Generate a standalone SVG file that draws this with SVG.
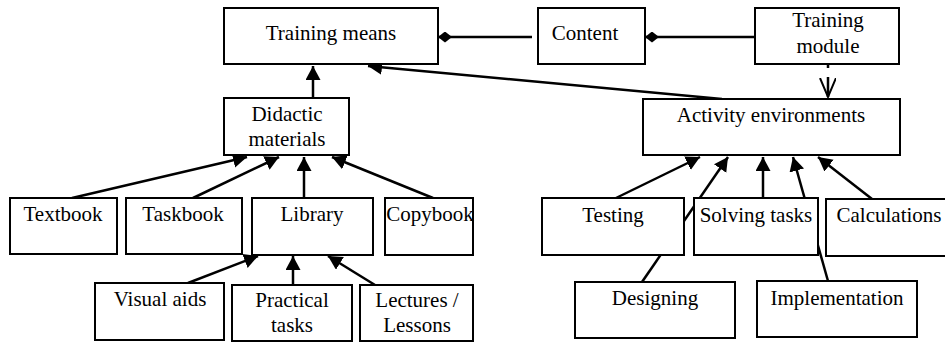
<svg xmlns="http://www.w3.org/2000/svg" width="945" height="342" viewBox="0 0 945 342">
<style>
.box{fill:#fff;stroke:#000;stroke-width:2}
.t{font-family:"Liberation Serif","Times New Roman",serif;font-size:21px;fill:#000;text-anchor:middle}
.c{stroke:#000;stroke-width:2.5;fill:none}
.a{marker-end:url(#arr)}
</style>
<defs>
<marker id="arr" markerUnits="userSpaceOnUse" markerWidth="16" markerHeight="16" refX="14" refY="7.5" orient="auto">
<path d="M0,0 L14,7.5 L0,15 z" fill="#000"/>
</marker>
<marker id="dia" markerUnits="userSpaceOnUse" markerWidth="15" markerHeight="12" refX="0" refY="5.5" orient="auto">
<path d="M0,5.5 L7,0 L14,5.5 L7,11 z" fill="#000"/>
</marker>
<marker id="open" markerUnits="userSpaceOnUse" markerWidth="22" markerHeight="18" refX="19" refY="8" orient="auto">
<path d="M0,0 L19,8 L0,16" fill="none" stroke="#000" stroke-width="2"/>
</marker>
</defs>
<g id="connectors">
<line class="c" x1="438" y1="37" x2="532" y2="37" marker-start="url(#dia)"/>
<line class="c" x1="645" y1="37" x2="755" y2="37" marker-start="url(#dia)"/>
<path class="c" d="M828,65 V68 M828,77 V97" marker-end="url(#open)"/>
<line class="c a" x1="722" y1="99" x2="368" y2="66"/>
<line class="c a" x1="313" y1="98" x2="313" y2="66"/>
<line class="c a" x1="72" y1="198" x2="247" y2="157"/>
<line class="c a" x1="193" y1="198" x2="279" y2="157"/>
<line class="c a" x1="304" y1="198" x2="304" y2="157"/>
<line class="c a" x1="433" y1="198" x2="332" y2="157"/>
<line class="c a" x1="188" y1="283" x2="258" y2="256"/>
<line class="c a" x1="293" y1="285" x2="293" y2="256"/>
<line class="c a" x1="375" y1="285" x2="328" y2="256"/>
<line class="c a" x1="616" y1="198" x2="700" y2="157"/>
<line class="c a" x1="642" y1="282" x2="728" y2="157"/>
<line class="c a" x1="763" y1="198" x2="763" y2="157"/>
<line class="c a" x1="828" y1="281" x2="793" y2="157"/>
<line class="c a" x1="872" y1="199" x2="818" y2="157"/>
</g>
<g id="training_means"><rect class="box" x="224" y="8" width="214" height="56"/><text class="t" x="331" y="40">Training means</text></g>
<g id="content"><rect class="box" x="538" y="8" width="107" height="56"/><text class="t" x="585" y="40">Content</text></g>
<g id="training_module"><rect class="box" x="755" y="8" width="144" height="56"/><text class="t" x="828" y="27">Training</text><text class="t" x="828" y="53">module</text></g>
<g id="didactic_materials"><rect class="box" x="224" y="98" width="125" height="57"/><text class="t" x="287" y="121">Didactic</text><text class="t" x="287" y="146">materials</text></g>
<g id="activity_environments"><rect class="box" x="643" y="99" width="257" height="56"/><text class="t" x="771" y="122">Activity environments</text></g>
<g id="textbook"><rect class="box" x="10" y="198" width="107" height="56"/><text class="t" x="63" y="221">Textbook</text></g>
<g id="taskbook"><rect class="box" x="126" y="198" width="116" height="56"/><text class="t" x="183" y="221">Taskbook</text></g>
<g id="library"><rect class="box" x="252" y="198" width="121" height="57"/><text class="t" x="312" y="221">Library</text></g>
<g id="copybook"><rect class="box" x="385" y="198" width="88" height="57"/><text class="t" x="430" y="221">Copybook</text></g>
<g id="visual_aids"><rect class="box" x="95" y="283" width="129" height="57"/><text class="t" x="160" y="306">Visual aids</text></g>
<g id="practical_tasks"><rect class="box" x="232" y="285" width="120" height="56"/><text class="t" x="292" y="307">Practical</text><text class="t" x="292" y="332">tasks</text></g>
<g id="lectures_lessons"><rect class="box" x="360" y="285" width="113" height="56"/><text class="t" x="417" y="307">Lectures /</text><text class="t" x="417" y="332">Lessons</text></g>
<g id="testing"><rect class="box" x="542" y="198" width="142" height="57"/><text class="t" x="613" y="222">Testing</text></g>
<g id="solving_tasks"><rect class="box" x="694" y="198" width="124" height="57"/><text class="t" x="756" y="222">Solving tasks</text></g>
<g id="calculations"><rect class="box" x="826" y="199" width="125" height="57"/><text class="t" x="889" y="222">Calculations</text></g>
<g id="designing"><rect class="box" x="575" y="282" width="160" height="56"/><text class="t" x="655" y="305">Designing</text></g>
<g id="implementation"><rect class="box" x="757" y="281" width="160" height="56"/><text class="t" x="837" y="305">Implementation</text></g>
</svg>
